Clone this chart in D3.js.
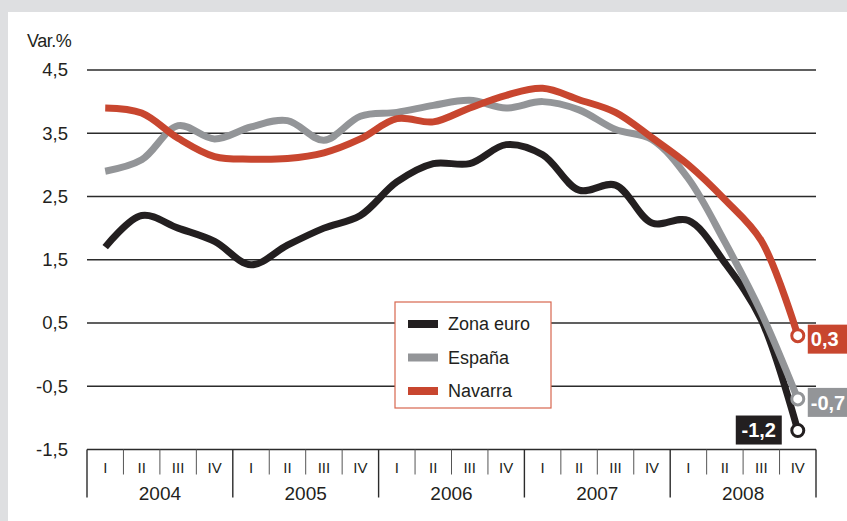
<!DOCTYPE html>
<html>
<head>
<meta charset="utf-8">
<script src="https://cdn.jsdelivr.net/npm/d3@7"></script>
<style>
  body { margin: 0; background: #dedfe1; }
  svg { display: block; font-family: "Liberation Sans", Arial, sans-serif; }
</style>
</head>
<body>
<svg id="chart"></svg>
<script>
let width = 847;
let height = 521;

// data (quarterly, 2004 I .. 2008 IV)
let years = ['2004', '2005', '2006', '2007', '2008'];
let quarters = ['I', 'II', 'III', 'IV'];
let yTicks = [4.5, 3.5, 2.5, 1.5, 0.5, -0.5, -1.5];
let zonaEuro = [1.7, 2.2, 2.0, 1.79, 1.42, 1.73, 2.0, 2.2, 2.73, 3.02, 3.02, 3.32, 3.16, 2.6, 2.68, 2.08, 2.12, 1.45, 0.55, -1.2];
let espana = [2.9, 3.08, 3.62, 3.41, 3.6, 3.7, 3.39, 3.77, 3.83, 3.94, 4.02, 3.9, 4.0, 3.87, 3.56, 3.4, 2.78, 1.78, 0.66, -0.7];
let navarra = [3.9, 3.82, 3.42, 3.13, 3.09, 3.1, 3.19, 3.41, 3.73, 3.68, 3.9, 4.1, 4.21, 4.03, 3.83, 3.43, 3.0, 2.45, 1.8, 0.3];
let seriesNames = ['Zona euro', 'España', 'Navarra'];
let endLabels = ['-1,2', '-0,7', '0,3'];

let colors = ['#231f20', '#939598', '#c8462f'];
let allSeries = [zonaEuro, espana, navarra];

let svg = d3.select('#chart').attr('width', width).attr('height', height);

// white panel
svg.append('rect')
  .attr('x', 8).attr('y', 12)
  .attr('width', width).attr('height', height)
  .attr('fill', '#fff');

let nQ = years.length * quarters.length;

let xScale = d3.scaleLinear()
  .domain([-0.5, nQ - 0.5])
  .range([87, 816]);

let yScale = d3.scaleLinear()
  .domain([-1.5, 4.5])
  .range([449.5, 70]);

// hyphen minus and decimal comma, like the original
let fmt = v => v.toFixed(1).replace('.', ',');

// grid lines
svg.append('g')
  .selectAll('line')
  .data(yTicks)
  .enter()
  .append('line')
  .attr('x1', xScale(-0.5))
  .attr('x2', xScale(nQ - 0.5))
  .attr('y1', d => yScale(d))
  .attr('y2', d => yScale(d))
  .attr('stroke', '#2b2b2b')
  .attr('stroke-width', 1.4);

// y labels
svg.append('g')
  .selectAll('text')
  .data(yTicks)
  .enter()
  .append('text')
  .attr('x', 68)
  .attr('y', d => yScale(d))
  .attr('dy', '0.35em')
  .attr('text-anchor', 'end')
  .attr('font-size', 18.5)
  .attr('fill', '#231f20')
  .text(d => fmt(d));

svg.append('text')
  .attr('x', 27).attr('y', 47)
  .attr('font-size', 18)
  .attr('letter-spacing', -0.5)
  .attr('fill', '#231f20')
  .text('Var.%');

// x axis: quarter cells and years
let axisTop = yScale(-1.5);
let qIdx = d3.range(nQ);

svg.append('g')
  .selectAll('line')
  .data(d3.range(nQ + 1).filter(i => i % 4 !== 0))
  .enter()
  .append('line')
  .attr('x1', i => xScale(i - 0.5))
  .attr('x2', i => xScale(i - 0.5))
  .attr('y1', axisTop)
  .attr('y2', axisTop + 25)
  .attr('stroke', '#555')
  .attr('stroke-width', 1);

svg.append('g')
  .selectAll('line')
  .data(d3.range(0, nQ + 1, 4))
  .enter()
  .append('line')
  .attr('x1', i => xScale(i - 0.5))
  .attr('x2', i => xScale(i - 0.5))
  .attr('y1', axisTop)
  .attr('y2', axisTop + 48)
  .attr('stroke', '#2b2b2b')
  .attr('stroke-width', 1.4);

svg.append('g')
  .selectAll('text')
  .data(qIdx)
  .enter()
  .append('text')
  .attr('x', i => xScale(i))
  .attr('y', axisTop + 23)
  .attr('text-anchor', 'middle')
  .attr('font-family', '"Liberation Sans Narrow", "Liberation Sans", Arial, sans-serif')
  .attr('font-size', 15)
  .attr('fill', '#231f20')
  .text(i => quarters[i % 4]);

svg.append('g')
  .selectAll('text')
  .data(years)
  .enter()
  .append('text')
  .attr('x', (d, i) => xScale(i * 4 + 1.5))
  .attr('y', axisTop + 50)
  .attr('text-anchor', 'middle')
  .attr('font-size', 19)
  .attr('fill', '#231f20')
  .text(d => d);

// lines
let line = d3.line()
  .x((d, i) => xScale(i))
  .y(d => yScale(d))
  .curve(d3.curveCatmullRom.alpha(0.5));

// black first, grey over it, red on top
[0, 1, 2].forEach(k => {
  svg.append('path')
    .datum(allSeries[k])
    .attr('d', line)
    .attr('fill', 'none')
    .attr('stroke', colors[k])
    .attr('stroke-width', 7)
    .attr('stroke-linejoin', 'round');
});

// end markers and labels
allSeries.forEach((s, k) => {
  let last = s[s.length - 1];
  let cx = xScale(s.length - 1);
  let cy = yScale(last);
  svg.append('circle')
    .attr('cx', cx).attr('cy', cy)
    .attr('r', 6)
    .attr('fill', '#fff')
    .attr('stroke', colors[k])
    .attr('stroke-width', 3);

  let boxW = 46, boxH = 29;
  let bx = k === 0 ? cx - 62 : cx + 10;
  let by = k === 0 ? cy - 15 : cy - 11;
  svg.append('rect')
    .attr('x', bx).attr('y', by)
    .attr('width', k === 0 ? boxW : 60).attr('height', boxH)
    .attr('fill', colors[k]);
  svg.append('text')
    .attr('x', k === 0 ? bx + boxW / 2 : bx + 3)
    .attr('y', by + boxH / 2)
    .attr('dy', '0.36em')
    .attr('text-anchor', k === 0 ? 'middle' : 'start')
    .attr('font-size', 20)
    .attr('font-weight', 'bold')
    .attr('fill', '#fff')
    .text(endLabels[k]);
});

// legend
let lg = svg.append('g').attr('transform', 'translate(395,302)');
lg.append('rect')
  .attr('width', 156).attr('height', 106)
  .attr('fill', '#fff')
  .attr('stroke', '#d8674f')
  .attr('stroke-width', 1.2);

seriesNames.forEach((name, k) => {
  let yy = 22 + k * 33.5;
  lg.append('line')
    .attr('x1', 13).attr('x2', 43)
    .attr('y1', yy).attr('y2', yy)
    .attr('stroke', colors[k])
    .attr('stroke-width', 8);
  lg.append('text')
    .attr('x', 53).attr('y', yy)
    .attr('dy', '0.35em')
    .attr('font-size', 18)
    .attr('fill', '#231f20')
    .text(name);
});
</script>
</body>
</html>
